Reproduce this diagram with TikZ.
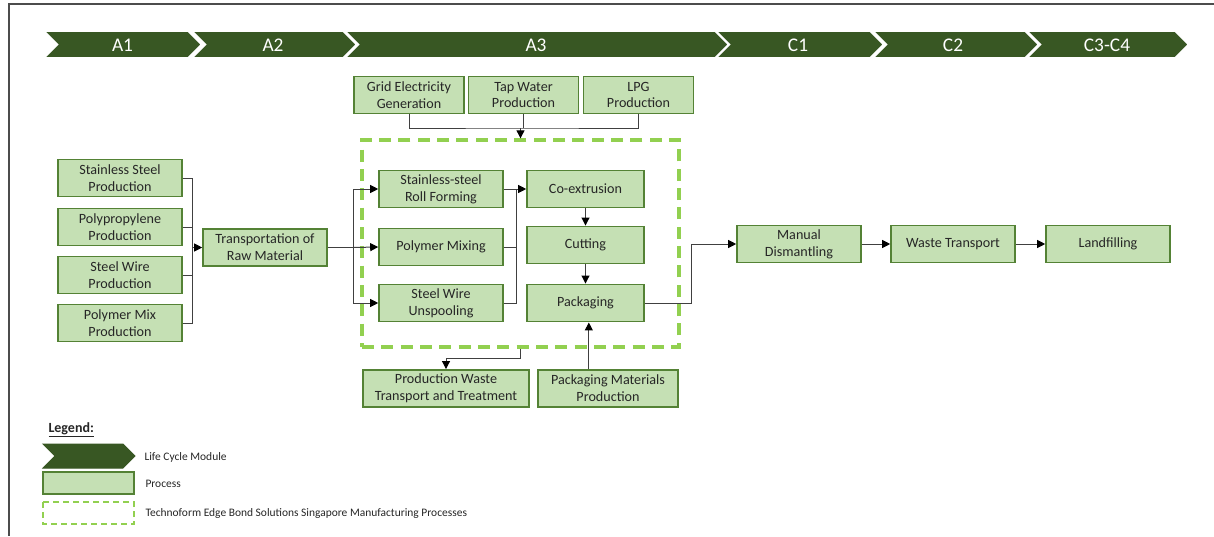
\documentclass[tikz,border=0pt]{standalone}
\usepackage{fontspec}
\setmainfont{Carlito}
\usetikzlibrary{arrows.meta}

\definecolor{chevgreen}{RGB}{56,87,35}
\definecolor{procfill}{RGB}{197,224,180}
\definecolor{procline}{RGB}{84,130,53}
\definecolor{bondgreen}{RGB}{146,208,80}

\tikzset{every picture/.style={line width=0.75pt}}
\tikzset{
  proc/.style={draw=procline, fill=procfill, line width=1.2pt, inner sep=0pt, align=center,
    minimum height=28pt, font=\fontsize{10.6}{12.6}\selectfont, text=black!85},
  link/.style={draw=black!75, line width=0.75pt},
  linkarrow/.style={link, -{Triangle[length=6pt,width=6pt,color=black]}},
  module/.style={fill=chevgreen, draw=white, line width=1.2pt},
  modtext/.style={inner sep=0.75pt, text=white, font=\fontsize{14.5}{16}\selectfont},
  legtext/.style={anchor=west, inner sep=0.75pt, font=\fontsize{8.6}{10}\selectfont, text=black!85},
}

\begin{document}
\begin{tikzpicture}[x=0.75pt,y=0.75pt,yscale=-1,xscale=1]
\useasboundingbox (0,0) rectangle (1214,536);

%Frame lines
\draw [black!70, line width=1.1pt] (1214,4) -- (9,4) -- (9,536) ;

%Shape: Chevron A1
\draw [module] (44,31) -- (188,31) -- (201.5,44.5) -- (188,58) -- (44,58) -- (57.5,44.5) -- cycle ;
%Shape: Chevron A2
\draw [module] (192,31) -- (343,31) -- (356.5,44.5) -- (343,58) -- (192,58) -- (205.5,44.5) -- cycle ;
%Shape: Chevron A3
\draw [module] (345,31) -- (715,31) -- (728.5,44.5) -- (715,58) -- (345,58) -- (358.5,44.5) -- cycle ;
%Shape: Chevron C1
\draw [module] (716,31) -- (870,31) -- (883.5,44.5) -- (870,58) -- (716,58) -- (729.5,44.5) -- cycle ;
%Shape: Chevron C2
\draw [module] (873,31) -- (1025,31) -- (1038.5,44.5) -- (1025,58) -- (873,58) -- (886.5,44.5) -- cycle ;
%Shape: Chevron C3-C4
\draw [module] (1027,31) -- (1175,31) -- (1188.5,44.5) -- (1175,58) -- (1027,58) -- (1040.5,44.5) -- cycle ;

% Text Node
\node [modtext] (modA1) at (122.5,45) {A1};
% Text Node
\node [modtext] (modA2) at (273,45) {A2};
% Text Node
\node [modtext] (modA3) at (536,45) {A3};
% Text Node
\node [modtext] (modC1) at (798,45) {C1};
% Text Node
\node [modtext] (modC2) at (953,45) {C2};
% Text Node
\node [modtext] (modC34) at (1107,45) {C3-C4};

%Shape: Dashed site boundary
\node [draw=bondgreen, line width=2.5pt, dash pattern={on 9pt off 5.5pt}, minimum width=237.75pt,
  minimum height=155.25pt, inner sep=0pt] (plant) at (520.5,243.5) {};

%Raw material supply
\node [proc, minimum width=93pt] (ss) at (120,178) {Stainless Steel\\Production};
\node [proc, minimum width=93pt] (pp) at (120,227) {Polypropylene\\Production};
\node [proc, minimum width=93pt] (sw) at (120,275) {Steel Wire\\Production};
\node [proc, minimum width=93pt] (pm) at (120,323) {Polymer Mix\\Production};
\node [proc, minimum width=93pt] (trans) at (265,247.5) {Transportation of\\Raw Material};

%Utilities
\node [proc, minimum width=82.5pt] (grid) at (409,95) {Grid Electricity\\Generation};
\node [proc, minimum width=82.5pt] (tap) at (523.5,95) {Tap Water\\Production};
\node [proc, minimum width=82.5pt] (lpg) at (638.5,95) {LPG\\Production};

%Manufacturing steps
\node [proc, minimum width=93pt] (roll) at (441,189) {Stainless-steel\\Roll Forming};
\node [proc, minimum width=93pt] (mix) at (441,247) {Polymer Mixing};
\node [proc, minimum width=93pt] (unsp) at (441,303) {Steel Wire\\Unspooling};
\node [proc, minimum width=87.75pt] (coex) at (585.5,189) {Co-extrusion};
\node [proc, minimum width=87.75pt] (cut) at (585.5,245) {Cutting};
\node [proc, minimum width=87.75pt] (pack) at (585.5,303) {Packaging};

%Waste and packaging
\node [proc, minimum width=124.5pt] (waste) at (446,388.5) {Production Waste\\Transport and Treatment};
\node [proc, minimum width=105pt] (pmat) at (608,388.5) {Packaging Materials\\Production};

%End of life
\node [proc, minimum width=93pt] (dism) at (799,244) {Manual\\Dismantling};
\node [proc, minimum width=93pt] (wtrans) at (953,244) {Waste Transport};
\node [proc, minimum width=93pt] (land) at (1108,244) {Landfilling};

%Junctions
\coordinate (jA) at (192,247.5);
\coordinate (jB) at (353,247.5);
\coordinate (jC) at (516,189);
\coordinate (jD) at (691,244);
\coordinate (jE) at (520.5,128);
\coordinate (jF) at (520.5,358);

%Connectors
\draw [link] (ss.east) -| (jA) ;
\draw [link] (pp.east) -| (jA) ;
\draw [link] (sw.east) -| (jA) ;
\draw [link] (pm.east) -| (jA) ;
\draw [linkarrow] (jA) -- (trans.west) ;
\draw [link] (trans.east) -- (jB) ;
\draw [linkarrow] (jB) |- (roll.west) ;
\draw [linkarrow] (jB) -- (mix.west) ;
\draw [linkarrow] (jB) |- (unsp.west) ;
\draw [link] (roll.east) -- (jC) ;
\draw [link] (mix.east) -| (jC) ;
\draw [link] (unsp.east) -| (jC) ;
\draw [linkarrow] (jC) -- (coex.west) ;
\draw [linkarrow] (coex) -- (cut) ;
\draw [linkarrow] (cut) -- (pack) ;
\draw [link] (grid.south) |- (jE) -| (lpg.south) ;
\draw [link] (tap.south) -- (tap.south |- jE) ;
\draw [linkarrow] (jE) -- (plant.north) ;
\draw [link] (plant.south) -- (jF) ;
\draw [linkarrow] (jF) -| (waste.north) ;
\draw [linkarrow] ([xshift=2.5pt]pmat.north -| pack.south) -- ([xshift=2.5pt]pack.south) ;
\draw [link] (pack.east) -| (jD) ;
\draw [linkarrow] (jD) -- (dism.west) ;
\draw [linkarrow] (dism) -- (wtrans) ;
\draw [linkarrow] (wtrans) -- (land) ;

%Legend
\node [legtext, font=\fontsize{10.5}{12}\selectfont\bfseries] (legHead) at (47,430) {\underline{Legend:}};
\draw [fill=chevgreen, draw=chevgreen] (43,444) -- (123,444) -- (135,456) -- (123,468) -- (43,468) -- (55,456) -- cycle ;
\draw [draw=procline, fill=procfill, line width=1.2pt] (43,472) rectangle (134,494) ;
\draw [draw=bondgreen, line width=1.1pt, dash pattern={on 4.5pt off 3pt}] (43,502) rectangle (134,524) ;
% Text Node
\node [legtext] (legModule) at (143,457) {Life Cycle Module};
% Text Node
\node [legtext] (legProc) at (144,484) {Process};
% Text Node
\node [legtext] (legSite) at (144,513) {Technoform Edge Bond Solutions Singapore Manufacturing Processes};
\end{tikzpicture}
\end{document}
